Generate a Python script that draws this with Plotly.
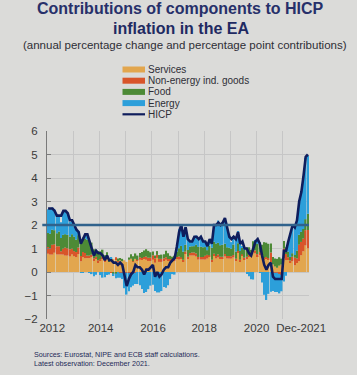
import pandas as pd
import plotly.graph_objects as go

# ---------------- data (percentage point contributions, monthly Jan-2012 .. Dec-2021)
START = "2012-01-01"
N_MONTHS = 120

services = [
    .78, .74, .74, .82, .74, .74, .74, .74, .70, .70, .66, .74,
    .67, .63, .76, .46, .63, .59, .59, .59, .63, .50, .59, .42,
    .50, .55, .46, .67, .46, .55, .55, .55, .46, .50, .46, .50,
    .43, .52, .56, .43, .56, .47, .52, .52, .56, .52, .47, .47,
    .52, .39, .60, .43, .43, .47, .52, .47, .47, .47, .47, .56,
    .53, .57, .44, .79, .57, .70, .70, .70, .66, .53, .53, .53,
    .53, .57, .66, .44, .70, .57, .62, .57, .57, .66, .57, .57,
    .57, .62, .48, .84, .44, .70, .53, .57, .66, .66, .84, .79,
    .68, .72, .59, .54, .59, .54, .41, .32, .23, .18, .27, .32,
    .59, .50, .55, .38, .46, .29, .38, .46, .71, .88, 1.13, 1.01]

neig = [
    .28, .25, .42, .36, .36, .36, .14, .25, .34, .31, .31, .25,
    .22, .22, .28, .22, .22, .22, .11, .11, .11, .08, .06, .08,
    .05, .11, .05, .03, .00, -.03, .00, .08, .05, -.03, -.03, -.03,
    -.03, -.03, -.05, .03, -.03, .05, .11, .08, .08, .14, .14, .14,
    .19, .19, .13, .13, .13, .11, .11, .08, .08, .08, .08, .08,
    .13, .05, .08, .08, .08, .11, .13, .13, .13, .11, .11, .11,
    .16, .16, .05, .08, .08, .11, .13, .08, .08, .11, .11, .11,
    .10, .10, .08, .05, .08, .05, .08, .08, .08, .08, .10, .13,
    .08, .13, .13, .05, .05, .05, .42, -.03, -.03, -.03, -.08, -.13,
    .41, .27, .08, .11, .19, .32, .19, .70, .57, .54, .65, .78]

food = [
    .60, .64, .64, .60, .55, .62, .57, .59, .57, .57, .53, .62,
    .62, .53, .53, .57, .62, .62, .68, .62, .51, .39, .31, .39,
    .33, .29, .20, .14, .02, .04, -.06, -.06, .06, .10, .10, .00,
    .00, .10, .20, .21, .23, .18, .18, .25, .27, .31, .29, .23,
    .16, .12, .16, .16, .18, .18, .27, .25, .14, .10, .14, .23,
    .35, .49, .35, .29, .29, .27, .27, .27, .37, .43, .43, .41,
    .37, .20, .41, .51, .51, .53, .49, .49, .51, .43, .37, .35,
    .33, .45, .31, .33, .37, .31, .35, .39, .31, .21, .37, .39,
    .44, .42, .44, .68, .61, .61, .38, .32, .34, .38, .36, .25,
    .32, .28, .24, .15, .15, .11, .34, .43, .43, .41, .47, .69]

energy = [
    1.01, 1.05, .94, .89, .80, .67, .67, .98, 1.00, .88, .63, .57,
    .41, .41, .18, -.04, -.02, .17, .17, -.03, -.09, -.18, -.12, .00,
    -.13, -.24, -.22, -.13, -.11, .01, -.11, -.21, -.24, -.21, -.27, -.66,
    -.93, -.79, -.60, -.58, -.48, -.51, -.56, -.72, -.89, -.85, -.73, -.58,
    -.54, -.81, -.87, -.87, -.81, -.64, -.67, -.56, -.30, -.09, -.11, .26,
    .81, .93, .74, .76, .45, .19, .22, .40, .39, .30, .47, .29,
    .22, .21, .20, .26, .61, .80, .95, .92, .95, 1.07, .91, .55,
    .27, .36, .53, .53, .38, .02, .05, -.06, -.18, -.31, -.32, .02,
    .19, -.03, -.45, -.97, -1.19, -.93, -.84, -.78, -.82, -.82, -.83, -.69,
    -.40, -.16, .41, .99, 1.24, 1.20, 1.36, 1.46, 1.67, 2.25, 2.61, 2.47]

hicp = [
    2.7, 2.7, 2.7, 2.6, 2.4, 2.4, 2.4, 2.6, 2.6, 2.5, 2.2, 2.2,
    2.0, 1.8, 1.7, 1.2, 1.4, 1.6, 1.6, 1.3, 1.1, 0.7, 0.9, 0.8,
    0.8, 0.7, 0.5, 0.7, 0.5, 0.5, 0.4, 0.4, 0.3, 0.4, 0.3, -0.2,
    -0.6, -0.3, -0.1, 0.0, 0.3, 0.2, 0.2, 0.1, -0.1, 0.1, 0.1, 0.2,
    0.3, -0.2, 0.0, -0.2, -0.1, 0.1, 0.2, 0.2, 0.4, 0.5, 0.6, 1.1,
    1.7, 2.0, 1.5, 1.9, 1.4, 1.3, 1.3, 1.5, 1.5, 1.4, 1.5, 1.3,
    1.3, 1.1, 1.4, 1.2, 2.0, 2.0, 2.1, 2.0, 2.1, 2.3, 1.9, 1.5,
    1.4, 1.5, 1.4, 1.7, 1.2, 1.3, 1.0, 1.0, 0.8, 0.7, 1.0, 1.3,
    1.4, 1.2, 0.7, 0.3, 0.1, 0.3, 0.4, -0.2, -0.3, -0.3, -0.3, -0.3,
    0.9, 0.9, 1.3, 1.6, 2.0, 1.9, 2.2, 3.0, 3.4, 4.1, 4.9, 5.0]

TARGET = 2.0

SERIES_NAMES = ["Services", "Non-energy ind. goods", "Food", "Energy"]
SERIES_COLORS = ["#e2a64e", "#d8552a", "#4d8a36", "#2c9fda"]
HICP_NAME = "HICP"
HICP_COLOR = "#0f1d5c"
TARGET_COLOR = "#30628c"

TICK_POS = [2012.2, 2014.05, 2016.05, 2018.0, 2020.0, 2021.7]
TICK_TEXT = ["2012", "2014", "2016", "2018", "2020", "Dec-2021"]

TITLE_1 = "Contributions of components to HICP"
TITLE_2 = "inflation in the EA"
SUBTITLE = "(annual percentage change and percentage point contributions)"
NOTE_1 = "Sources: Eurostat, NIPE and ECB staff calculations."
NOTE_2 = "Latest observation: December 2021."

# ---------------- layout geometry (pixels)
W, H = 357, 375
ML, MR, MT, MB = 47, 48, 131, 56
PW, PH = W - ML - MR, H - MT - MB
BG = "#dbdbd9"
FONT = "Liberation Sans, Arial, sans-serif"
LEG_FONT = "Liberation Sans Narrow, Arial Narrow, Liberation Sans, sans-serif"


def px_x(px):
    return (px - ML) / PW


def px_y(py):
    return (H - MB - py) / PH


months = pd.date_range(START, periods=N_MONTHS, freq="MS")
x = list(months.year + (months.month - 0.5) / 12.0)

fig = go.Figure()
for name, vals, col in zip(SERIES_NAMES, [services, neig, food, energy], SERIES_COLORS):
    fig.add_trace(go.Bar(x=x, y=vals, name=name, marker=dict(color=col, line=dict(width=0)),
                         showlegend=False))

fig.add_trace(go.Scatter(x=x, y=hicp, name=HICP_NAME, mode="lines",
                         line=dict(color=HICP_COLOR, width=2.6), showlegend=False))

fig.add_shape(type="line", xref="paper", yref="y", x0=-0.018, x1=1.0, y0=TARGET, y1=TARGET,
              line=dict(color=TARGET_COLOR, width=2.4), layer="above")

# custom compact legend
leg_rows = [69.5, 80.7, 91.9, 103.1, 114.3]
sw_x0, sw_x1, txt_x = 122.5, 145, 146.5
for i, (name, col) in enumerate(zip(SERIES_NAMES, SERIES_COLORS)):
    yc = leg_rows[i]
    fig.add_shape(type="rect", xref="paper", yref="paper",
                  x0=px_x(sw_x0), x1=px_x(sw_x1), y0=px_y(yc + 3), y1=px_y(yc - 3),
                  fillcolor=col, line=dict(width=0))
    fig.add_annotation(x=px_x(txt_x), y=px_y(yc), xref="paper", yref="paper", text=name,
                       showarrow=False, xanchor="left", yanchor="middle", borderpad=0,
                       font=dict(size=10, color="#2e2e36", family=LEG_FONT))
yc = leg_rows[4]
fig.add_shape(type="line", xref="paper", yref="paper",
              x0=px_x(sw_x0), x1=px_x(sw_x1), y0=px_y(yc), y1=px_y(yc),
              line=dict(color=HICP_COLOR, width=2.2))
fig.add_annotation(x=px_x(txt_x), y=px_y(yc), xref="paper", yref="paper", text=HICP_NAME,
                   showarrow=False, xanchor="left", yanchor="middle", borderpad=0,
                   font=dict(size=10, color="#2e2e36", family=LEG_FONT))

# titles and notes
fig.add_annotation(x=px_x(180.5), y=px_y(9), xref="paper", yref="paper", text="<b>%s</b>" % TITLE_1,
                   showarrow=False, xanchor="center", yanchor="middle",
                   font=dict(size=16, color="#27306a", family=FONT))
fig.add_annotation(x=px_x(180.5), y=px_y(29), xref="paper", yref="paper", text="<b>%s</b>" % TITLE_2,
                   showarrow=False, xanchor="center", yanchor="middle",
                   font=dict(size=16, color="#1f2a62", family=FONT))
fig.add_annotation(x=px_x(185), y=px_y(45), xref="paper", yref="paper", text=SUBTITLE,
                   showarrow=False, xanchor="center", yanchor="middle",
                   font=dict(size=11.5, color="#2e2e36", family=FONT))
fig.add_annotation(x=px_x(31.5), y=px_y(354.5), xref="paper", yref="paper", text=NOTE_1,
                   showarrow=False, xanchor="left", yanchor="middle",
                   font=dict(size=7.2, color="#1e2a58", family=FONT))
fig.add_annotation(x=px_x(31.5), y=px_y(363.5), xref="paper", yref="paper", text=NOTE_2,
                   showarrow=False, xanchor="left", yanchor="middle",
                   font=dict(size=7.2, color="#1e2a58", family=FONT))

fig.update_layout(
    width=W, height=H,
    margin=dict(l=ML, r=MR, t=MT, b=MB, pad=0),
    paper_bgcolor=BG, plot_bgcolor=BG,
    barmode="relative", bargap=0.3,
    font=dict(family=FONT, size=11, color="#3a3a3a"),
    showlegend=False,
    xaxis=dict(range=[2012, 2022], tickmode="array", tickvals=TICK_POS, ticktext=TICK_TEXT,
               showgrid=False, zeroline=False, showline=False, ticks="",
               tickfont=dict(size=11.5, color="#3a3a3a"),
               minor=dict(tick0=2012, dtick=1, showgrid=True, gridcolor="#c6c6c6", gridwidth=1)),
    yaxis=dict(range=[-2, 6], dtick=1, showgrid=True, gridcolor="#c6c6c6", gridwidth=1,
               zeroline=False, showline=True, linecolor="#7a7a7a", linewidth=1,
               ticks="inside", ticklen=4, tickcolor="#7a7a7a",
               ticklabelstandoff=6, tickfont=dict(size=11.5, color="#3a3a3a")),
)

fig.write_html("out.html", config={"displayModeBar": False},
               post_script="document.body.style.margin='0';document.body.style.overflow='hidden';")
